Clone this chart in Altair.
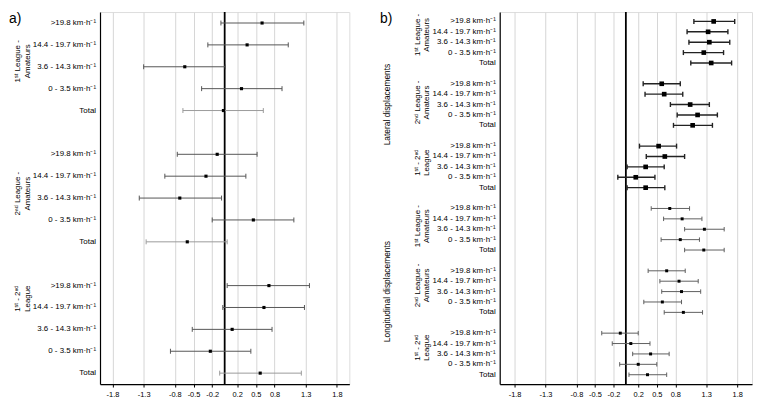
import altair as alt
import pandas as pd

# ---------------- data ----------------
speeds = [">19.8 km·h⁻¹", "14.4 - 19.7 km·h⁻¹", "3.6 - 14.3 km·h⁻¹", "0 - 3.5 km·h⁻¹", "Total"]
comparisons = ["1ˢᵗ League -\nAmateurs", "2ⁿᵈ League -\nAmateurs", "1ˢᵗ - 2ⁿᵈ\nLeague"]
directions = ["Lateral displacements", "Longitudinal displacements"]
tick_values = [-1.8, -1.3, -0.8, -0.5, -0.2, 0.2, 0.5, 0.8, 1.3, 1.8]

# panel a
a_est = [0.60, 0.36, -0.64, 0.27, -0.02,
         -0.12, -0.30, -0.72, 0.46, -0.60,
         0.71, 0.63, 0.12, -0.23, 0.57]
a_lo = [-0.06, -0.27, -1.30, -0.37, -0.67,
        -0.76, -0.96, -1.37, -0.20, -1.26,
        0.04, -0.03, -0.52, -0.87, -0.08]
a_hi = [1.27, 1.02, 0.01, 0.92, 0.62,
        0.52, 0.34, -0.05, 1.11, 0.04,
        1.36, 1.28, 0.76, 0.42, 1.23]

# panel b - lateral
lat_est = [1.42, 1.33, 1.35, 1.26, 1.38,
           0.58, 0.62, 1.04, 1.16, 1.08,
           0.53, 0.63, 0.32, 0.16, 0.32]
lat_lo = [1.10, 0.99, 1.02, 0.93, 1.05,
          0.28, 0.31, 0.72, 0.83, 0.77,
          0.22, 0.33, 0.02, -0.13, 0.02]
lat_hi = [1.76, 1.65, 1.68, 1.58, 1.71,
          0.88, 0.92, 1.35, 1.48, 1.40,
          0.82, 0.95, 0.62, 0.47, 0.63]

# panel b - longitudinal
lon_est = [0.71, 0.91, 1.27, 0.88, 1.26,
           0.66, 0.86, 0.90, 0.59, 0.93,
           -0.09, 0.08, 0.40, 0.20, 0.35]
lon_lo = [0.41, 0.61, 0.95, 0.57, 0.95,
          0.36, 0.55, 0.58, 0.29, 0.62,
          -0.39, -0.22, 0.11, -0.10, 0.05]
lon_hi = [1.03, 1.23, 1.59, 1.19, 1.59,
          0.96, 1.17, 1.21, 0.90, 1.24,
          0.20, 0.39, 0.70, 0.50, 0.66]

FONT = "Liberation Sans"

# layout: where each rotated group label is centred (in row units of the y scale)
A_LABEL_ANCHOR = [1.75, 7.8, 12.6]
B_LABEL_ANCHOR = [1.3, 7.8, 13.6, 19.7, 25.4, 31.4]


def rows_frame(est, lo, hi, group_offset=0):
    recs = []
    for k, (e, l, h) in enumerate(zip(est, lo, hi)):
        g, i = divmod(k, 5)
        recs.append(dict(row=(g + group_offset) * 6 + i, est=e, lo=l, hi=h,
                         label=speeds[i], total=(i == 4)))
    return pd.DataFrame(recs)


def x_enc(field, xs):
    return alt.X(field, type="quantitative", scale=xs,
                 axis=alt.Axis(values=tick_values, title=None, grid=True,
                               labelExpr="datum.value + ''", labelFontSize=7.5,
                               labelColor="black", labelFont=FONT, tickSize=3,
                               tickColor="black", domainColor="black",
                               domainWidth=1.2, gridColor="#d6d6d6",
                               labelPadding=4))


def y_enc(ys):
    return alt.Y("row:Q", scale=ys,
                 axis=alt.Axis(labels=False, ticks=False, grid=False, title=None,
                               domainColor="black", domainWidth=1.2))


def bars(df, xs, ys, color, width, size, cap):
    base = alt.Chart(df)
    rule = base.mark_rule(strokeWidth=width).encode(
        x=x_enc("lo", xs), x2="hi:Q", y=y_enc(ys), color=color)
    cap_lo = base.mark_point(shape="M0,-1L0,1", size=cap, strokeWidth=width,
                             filled=False, opacity=1).encode(
        x=x_enc("lo", xs), y=y_enc(ys), color=color)
    cap_hi = base.mark_point(shape="M0,-1L0,1", size=cap, strokeWidth=width,
                             filled=False, opacity=1).encode(
        x=x_enc("hi", xs), y=y_enc(ys), color=color)
    pts = base.mark_point(shape="square", filled=True, color="black", size=size,
                          opacity=1).encode(x=x_enc("est", xs), y=y_enc(ys))
    return [rule, cap_lo, cap_hi, pts]


def zero_line(xs, ys, height):
    return alt.Chart(pd.DataFrame({"z": [0]})).mark_rule(
        color="black", strokeWidth=1.8).encode(
        x=x_enc("z", xs), y=alt.value(0), y2=alt.value(height))


def row_labels(df, ys):
    return alt.Chart(df).mark_text(align="right", baseline="middle", fontSize=8,
                                   font=FONT, color="black").encode(
        x=alt.value(-4), y=y_enc(ys), text="label:N")


def group_labels(df, ys, xpos):
    return alt.Chart(df).mark_text(angle=270, align="center", baseline="middle",
                                   fontSize=8, font=FONT, color="black",
                                   lineBreak="\n", lineHeight=10).encode(
        x=alt.value(xpos), y=y_enc(ys), text="label:N")


def tag(text, xpos):
    return alt.Chart(pd.DataFrame({"t": [text]})).mark_text(
        align="left", baseline="top", fontSize=14, font=FONT, color="black").encode(
        x=alt.value(xpos), y=alt.value(0), text="t:N")


H = 376

# ---------------- panel a ----------------
xs_a = alt.Scale(domain=[-2, 2], nice=False, zero=False)
ys_a = alt.Scale(domain=[-0.5, 16.5], reverse=True, nice=False, zero=False)
df_a = rows_frame(a_est, a_lo, a_hi)
grp_a = pd.DataFrame({"row": A_LABEL_ANCHOR, "label": comparisons})
color_a = alt.condition("datum.total", alt.value("#9a9a9a"), alt.value("#555555"))

panel_a = alt.layer(
    zero_line(xs_a, ys_a, H),
    *bars(df_a, xs_a, ys_a, color_a, 1, 10, 25),
    row_labels(df_a, ys_a),
    group_labels(grp_a, ys_a, -83),
    tag("a)", -92),
).properties(width=252, height=H)

# ---------------- panel b ----------------
xs_b = alt.Scale(domain=[-2.04, 2.04], nice=False, zero=False)
ys_b = alt.Scale(domain=[-0.9, 34.9], reverse=True, nice=False, zero=False)
df_lat = rows_frame(lat_est, lat_lo, lat_hi, 0)
df_lon = rows_frame(lon_est, lon_lo, lon_hi, 3)
grp_b = pd.DataFrame({"row": B_LABEL_ANCHOR, "label": comparisons + comparisons})
dir_b = pd.DataFrame({"row": [8, 26], "label": directions})

panel_b = alt.layer(
    zero_line(xs_b, ys_b, H),
    *bars(df_lat, xs_b, ys_b, alt.value("#222222"), 1.4, 22, 25),
    *bars(df_lon, xs_b, ys_b, alt.value("#5e5e5e"), 1, 9, 20),
    row_labels(pd.concat([df_lat, df_lon]), ys_b),
    group_labels(grp_b, ys_b, -83),
    alt.Chart(dir_b).mark_text(angle=270, align="center", baseline="middle",
                               fontSize=8.5, font=FONT, color="black").encode(
        x=alt.value(-114), y=y_enc(ys_b), text="label:N"),
    tag("b)", -121),
).properties(width=255, height=H)

chart = alt.hconcat(panel_a, panel_b, spacing=152, bounds="flush").properties(
    padding={"left": 0, "top": 0, "right": 0, "bottom": 0}
).configure_view(stroke=None).configure(font=FONT)

chart.save("out.html", embed_options={"renderer": "svg", "actions": False})
